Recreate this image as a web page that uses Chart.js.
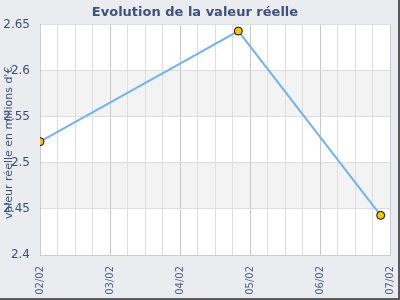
<!DOCTYPE html>
<html>
<head>
<meta charset="utf-8">
<script src="https://cdn.jsdelivr.net/npm/chart.js@4"></script>
<style>
  html, body { margin: 0; padding: 0; background: #ebecef; }
  #wrap { width: 400px; height: 300px; }
</style>
</head>
<body>
<div id="wrap"><canvas id="myChart" width="400" height="300"></canvas></div>
<script>
// month labels (mm/yy)
let moisLabels = ['02/02', '03/02', '04/02', '05/02', '06/02', '07/02'];
// dates of the measures and their value (millions d'€)
let dates = ['2002-02-01', '2002-04-26', '2002-06-27'];
let valeurs = [2.523, 2.643, 2.443];
let yTicks = [2.4, 2.45, 2.5, 2.55, 2.6, 2.65];

const textColor = '#3b4e7c';
const fontFam = '"DejaVu Sans", Verdana, sans-serif';

// months since 02/02, with fraction of the month
function monthPos(d) {
    let p = d.split('-').map(Number);
    let dim = new Date(p[0], p[1], 0).getDate();
    return (p[0] - 2002) * 12 + (p[1] - 2) + (p[2] - 1) / dim;
}

let points = dates.map((d, i) => ({ x: monthPos(d), y: valeurs[i] }));

// background, border shadow, bands, y title
const decor = {
    id: 'decor',
    beforeDraw(chart) {
        const ctx = chart.ctx;
        ctx.save();
        ctx.fillStyle = '#ebecef';
        ctx.fillRect(0, 0, chart.width, chart.height);
        ctx.fillStyle = '#5a5a5a';
        ctx.fillRect(chart.width - 2, 0, 2, chart.height);
        ctx.fillRect(0, chart.height - 2, chart.width, 2);
        const a = chart.chartArea;
        const ys = chart.scales.y;
        ctx.fillStyle = '#ffffff';
        ctx.fillRect(a.left, a.top, a.right - a.left, a.bottom - a.top);
        ctx.fillStyle = '#f3f3f3';
        for (let i = 0; i < yTicks.length - 1; i++) {
            if (i % 2 === 1) {
                let y1 = ys.getPixelForValue(yTicks[i]);
                let y2 = ys.getPixelForValue(yTicks[i + 1]);
                ctx.fillRect(a.left, y2, a.right - a.left, y1 - y2);
            }
        }
        ctx.restore();
    },
    afterDraw(chart) {
        const ctx = chart.ctx;
        const a = chart.chartArea;
        ctx.save();
        ctx.translate(9, (a.top + a.bottom) / 2 + 3);
        ctx.rotate(-Math.PI / 2);
        ctx.font = '11px ' + fontFam;
        ctx.fillStyle = textColor;
        ctx.textAlign = 'center';
        ctx.textBaseline = 'middle';
        ctx.fillText("valeur réelle en millions d'€", 0, 0);
        ctx.restore();
    }
};

const chart = document.getElementById('myChart').getContext('2d');
const myChart = new Chart(chart, {
    type: 'line',
    data: {
        datasets: [{
            label: 'Valeur réelle',
            data: points,
            borderColor: '#72b3f5',
            borderWidth: 2,
            pointRadius: 4,
            pointBackgroundColor: '#f7c600',
            pointBorderColor: '#000000',
            pointBorderWidth: 1,
            tension: 0
        }]
    },
    options: {
        responsive: false,
        animation: false,
        layout: { padding: { left: 0, right: 10, top: 0, bottom: 0 } },
        plugins: {
            legend: { display: false },
            tooltip: { enabled: false },
            title: {
                display: true,
                text: 'Evolution de la valeur réelle',
                color: '#3d5081',
                font: { family: fontFam, size: 13, weight: 'bold' },
                padding: { top: 5, bottom: 4 }
            }
        },
        scales: {
            x: {
                type: 'linear',
                min: 0,
                max: moisLabels.length - 1,
                afterFit: s => { s.height = 45; s.paddingLeft = 0; s.paddingRight = 0; },
                afterBuildTicks: s => {
                    s.ticks = [];
                    for (let i = 0; i <= (moisLabels.length - 1) * 4; i++) s.ticks.push({ value: i / 4 });
                },
                ticks: {
                    autoSkip: false,
                    minRotation: 90,
                    maxRotation: 90,
                    color: '#4a5d8a',
                    font: { family: fontFam, size: 10 },
                    padding: 11,
                    callback: v => Number.isInteger(v) ? moisLabels[v] : ''
                },
                grid: {
                    color: ctx => (ctx.tick && Number.isInteger(ctx.tick.value)) ? '#c8c8c8' : '#dedede',
                    drawTicks: false
                },
                border: { color: '#cccccc' }
            },
            y: {
                min: yTicks[0],
                max: yTicks[yTicks.length - 1],
                afterFit: s => { s.width = 40; },
                afterBuildTicks: s => { s.ticks = yTicks.map(v => ({ value: v })); },
                ticks: {
                    color: textColor,
                    font: { family: fontFam, size: 12 },
                    padding: 10,
                    callback: v => String(+v.toFixed(2))
                },
                grid: { color: '#dddddd', drawTicks: false },
                border: { color: '#cccccc' }
            }
        }
    },
    plugins: [decor]
});
</script>
</body>
</html>
